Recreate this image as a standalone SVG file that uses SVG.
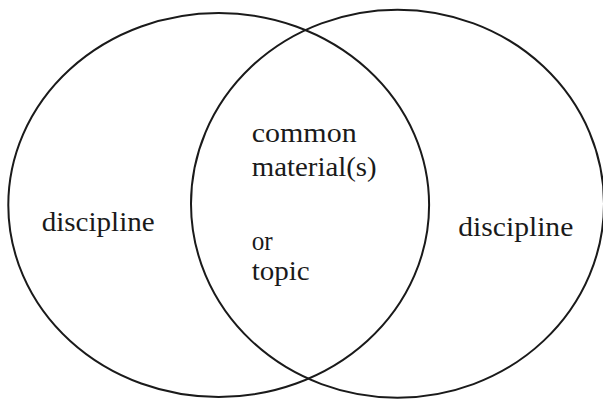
<svg xmlns="http://www.w3.org/2000/svg" width="603" height="399" viewBox="0 0 603 399">
<style>
.c{fill:none;stroke:#1a1a1a;stroke-width:2}
.t{font-family:"Liberation Serif","Times New Roman",serif;font-size:26.5px;fill:#1a1a1a}
</style>
<rect width="603" height="399" fill="#fff"/>
<g id="left-set">
<ellipse class="c" cx="218.7" cy="205" rx="210.4" ry="192"/>
<text class="t" x="41.7" y="230.7" textLength="113" lengthAdjust="spacingAndGlyphs">discipline</text>
</g>
<g id="right-set">
<ellipse class="c" cx="397.5" cy="203.7" rx="206.5" ry="194"/>
<text class="t" x="458.3" y="235.7" textLength="115" lengthAdjust="spacingAndGlyphs">discipline</text>
</g>
<g id="overlap">
<text class="t" x="251.7" y="141.7" textLength="105" lengthAdjust="spacingAndGlyphs">common</text>
<text class="t" x="251.7" y="175.7" textLength="125" lengthAdjust="spacingAndGlyphs">material(s)</text>
<text class="t" x="251.7" y="250" textLength="21" lengthAdjust="spacingAndGlyphs">or</text>
<text class="t" x="251.7" y="280" textLength="58" lengthAdjust="spacingAndGlyphs">topic</text>
</g>
<g id="connectors"/>
</svg>
